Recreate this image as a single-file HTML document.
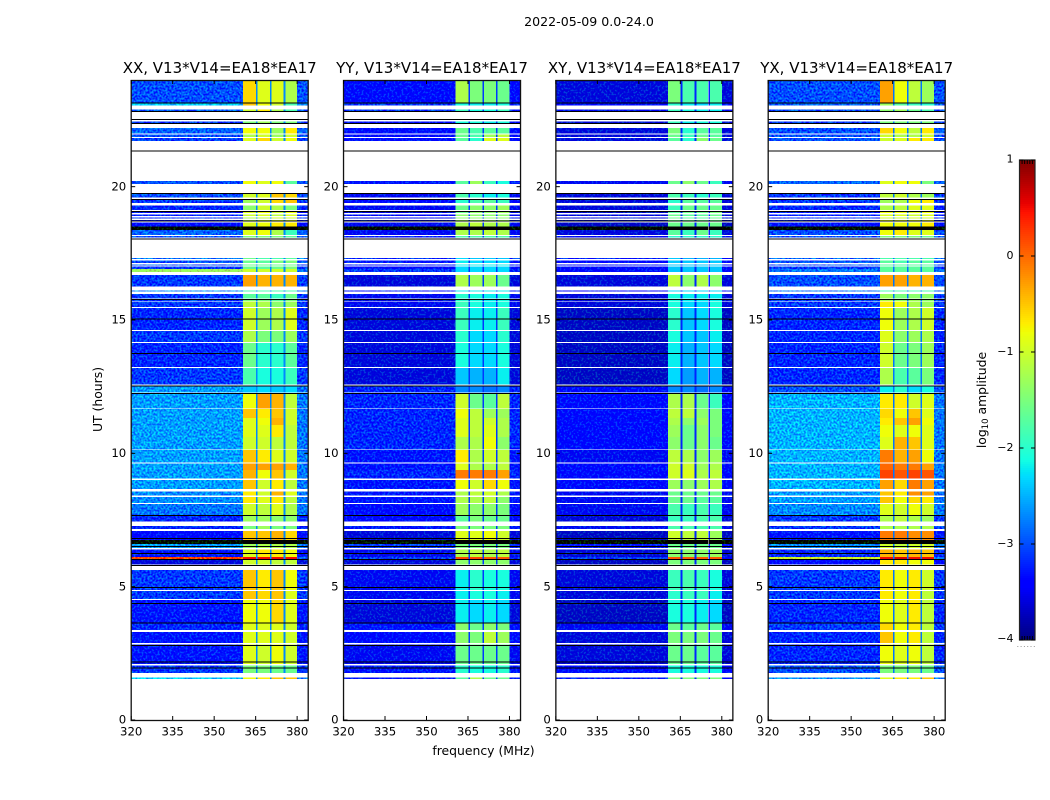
<!DOCTYPE html>
<html>
<head>
<meta charset="utf-8">
<title>2022-05-09 0.0-24.0</title>
<style>
html,body{margin:0;padding:0;background:#fff;width:1050px;height:800px;overflow:hidden}
svg{display:block}
text{font-family:"DejaVu Sans","Liberation Sans",sans-serif;fill:#000}
</style>
</head>
<body>
<svg id="figure" xmlns="http://www.w3.org/2000/svg" width="1050" height="800" viewBox="0 0 1050 800">
  <defs>
    <filter id="speckle" filterUnits="userSpaceOnUse" x="0" y="0" width="1050" height="800" color-interpolation-filters="sRGB">
      <feTurbulence type="fractalNoise" baseFrequency="0.5" numOctaves="1" seed="7" result="grain"/>
      <feColorMatrix in="grain" type="matrix" values="0 0 0 0 0.5  3 0 0 0 -1  0 0 0 0 0.5  0 0 0 0 1" result="greenGrain"/>
      <feComposite in="SourceGraphic" in2="greenGrain" operator="arithmetic" k1="0" k2="1" k3="0.5" k4="-0.25" result="mixed"/>
      <feComposite in="mixed" in2="SourceAlpha" operator="in"/>
    </filter>
  </defs>
  <text x="589" y="26" text-anchor="middle" font-size="12.6">2022-05-09 0.0-24.0</text>
  <text x="483.5" y="755" text-anchor="middle" font-size="12.4">frequency (MHz)</text>
  <text transform="translate(102,399.5) rotate(-90)" text-anchor="middle" font-size="12.4">UT (hours)</text>
  <text transform="translate(986,400) rotate(-90)" text-anchor="middle" font-size="12.4">log<tspan font-size="8.5" dy="2">10</tspan><tspan dy="-2"> amplitude</tspan></text>
  <g id="panels"></g>
  <g id="colorbar"></g>
</svg>
<script>
const panelTitles = ["XX, V13*V14=EA18*EA17","YY, V13*V14=EA18*EA17","XY, V13*V14=EA18*EA17","YX, V13*V14=EA18*EA17"];
const xTicks = [320,335,350,365,380];
const yTicks = [0,5,10,15,20];
const colorbarTicks = [1,0,-1,-2,-3,-4];
const colorbarTickLabels = ["1","0","\u22121","\u22122","\u22123","\u22124"];
const freqEdgesMHz = [320,360.5,365.1,365.7,370.2,370.8,375.1,375.7,380,384];
const gapChannelLevels = [-2.7,-3.1,-3.2,-2.8];
const rightEdgeLevels = [-2.8,-3.2,-3.4,-2.8];
const segmentTopUT = [24,23.16,22.9,22.44,22.2,21.95,21.83,20.21,19.74,19.51,19.29,19.09,18.96,18.84,18.75,18.66,18.51,18.38,18.15,17.33,17.24,17.09,17,16.91,16.69,16.11,15.98,15.79,15.69,15.45,14.59,14.14,13.2,12.53,12.26,11.66,11.33,11.06,10.61,10.13,9.62,9.38,9,8.56,8.37,8.1,7.67,7.28,7.08,6.75,6.6,6.39,6.11,6.04,5.63,4.84,4.5,3.64,3.3,2.83,2.04,1.59];
const segmentBottomUT = [23.16,23.04,22.84,22.38,21.99,21.86,21.72,20.1,19.6,19.38,19.13,19.01,18.9,18.8,18.69,18.51,18.38,18.19,18.09,17.28,17.13,17.04,16.91,16.8,16.25,16.09,15.8,15.71,15.48,14.63,14.18,13.24,12.59,12.28,11.69,11.33,11.06,10.61,10.15,9.66,9.38,9.05,8.66,8.42,8.14,7.69,7.44,7.16,6.75,6.6,6.45,6.11,6.04,5.83,4.88,4.54,3.66,3.38,2.89,2.1,1.77,1.54];
const blackRowsUT = [23.16,22.83,22.53,22.38,21.36,19.76,19.53,19.09,18.73,18.06,15.79,15.05,13.77,12.54,12.27,7.69,6.83,6.52,6.26,6.03,5.82,4.99,4.39,3.65,2.81,2.19,1.97];
// Row levels are log10 amplitude: [out-of-band, subband 1, subband 2, subband 3, subband 4]
const xxLevels = [
[-3,-.6,-.9,-.9,-1.2],[-2.4,-.5,-.8,-1,-1.8],[-2.9,-1,-.7,-1.2,-1.8],[-3.1,-1.5,-1.3,-1.5,-1.5],[-2.9,-.8,-.8,-1.3,-.7],[-3,-1.2,-1,-1.3,-1],[-3.1,-.9,-.6,-1,-.8],[-3,-.8,-.9,-.8,-1.7],[-3,-1,-.9,-.5,-.6],[-3.1,-1.3,-1,-.6,-.5],
[-3.2,-1.4,-1,-1.2,-1.5],[-3.5,-.9,-.8,-1,-.8],[-3.2,-1,-.9,-1.1,-.9],[-3.2,-1.2,-1.1,-1,-1],[-3.3,-1.2,-1,-1,-.9],[-3.4,-.9,-.8,-.7,-.7],[-4.2,-4.2,-4.2,-4.2,-4.2],[-2.9,-.9,-.8,-1.2,-1.9],[-3,-1.5,-1.5,-1.5,-1.7],[-2.8,-1.6,-1.8,-1.8,-1.7],
[-3,-1.6,-1.7,-1.5,-1.5],[-3,-1.6,-1.6,-1.6,-1.6],[-3.1,-1.6,-1.7,-1.6,-1.5],[-1.3,-1,-1,-1,-1],[-3.1,-.3,-.4,-.4,-.4],[-2.7,-1.8,-1.8,-1.8,-1.8],[-3.1,-1.7,-1.7,-1.9,-1.6],[-3.1,-1.5,-1.5,-1.7,-1.5],[-3.1,-1.1,-1.2,-1.4,-1.3],[-3.2,-1,-1.3,-1.2,-.9],
[-3.1,-1.2,-1.5,-1.5,-1.3],[-3.2,-1.6,-2,-2,-1.7],[-3.1,-1.8,-2.1,-2.1,-1.9],[-2.6,-2.4,-2.3,-2.4,-2.3],[-2.6,-.8,-.3,-.4,-1.1],[-2.6,-.5,-.7,-.5,-1],[-2.6,-.9,-.8,-.4,-1],[-2.6,-.9,-.9,-.7,-1.1],[-2.6,-1,-1,-1.1,-1.1],[-2.6,-.5,-.7,-.9,-1],
[-2.6,-.3,-.3,-.3,-.4],[-2.6,-.4,-.8,-.5,-1],[-2.6,-.5,-1,-.7,-1.1],[-2.7,-.7,-1,-.4,-.9],[-2.7,-.7,-.9,-.7,-1.1],[-2.8,-1,-1.1,-.9,-1.2],[-3.2,-1.3,-1.3,-1.4,-1.4],[-3.2,-1.5,-1.3,-1.5,-1.5],[-3.4,-.5,-.5,-.4,-.6],[-4.2,-4.2,-4.2,-4.2,-4.2],
[-2.6,-1.3,-1.2,-1.2,-1.2],[-3.3,-.9,-.7,-.7,-.8],[.2,.5,.5,.5,.5],[-3.6,-1,-1,-1.1,-1.1],[-3.1,-.5,-.7,-.5,-.8],[-3.1,-.5,-.6,-.5,-.9],[-3.3,-.8,-.8,-.6,-.9],[-3.2,-.9,-.9,-.9,-1],[-3.3,-.9,-.9,-.9,-1],[-3.3,-.9,-1,-.8,-1],
[-3.1,-1.5,-1.5,-1.6,-1.6],[-2.4,-.8,-.7,-.5,-.5]];
const yyLevels = [
[-3.4,-1.2,-1.5,-1.5,-1.6],[-3.1,-2.1,-2.2,-2.2,-2.1],[-3.1,-1.9,-2.1,-2.1,-1.9],[-3.4,-2.1,-2.1,-2.2,-2.1],[-3.4,-1.6,-1.8,-1.7,-1.7],[-3.4,-1.6,-1.8,-1.3,-1.1],[-3.4,-1.7,-2,-.9,-.9],[-3.3,-1.7,-1.3,-1.9,-2.1],[-3.5,-1.8,-2,-2.2,-2.1],[-3.4,-2,-1.8,-1.7,-1.9],
[-3.5,-1.6,-1.4,-1.4,-1.3],[-3.6,-1.6,-1.4,-1.4,-1.3],[-3.5,-1.4,-1.4,-1.4,-1.4],[-3.5,-1.4,-1.4,-1.4,-1.4],[-3.6,-1.3,-1.3,-1.3,-1.3],[-3.5,-1.2,-1.1,-1.2,-1.2],[-4.2,-4.2,-4.2,-4.2,-4.2],[-3.5,-1.2,-1.2,-1.1,-1.2],[-3.3,-1.8,-1.8,-1.8,-1.8],[-3.2,-2.3,-2.4,-2.4,-2.4],
[-3.3,-2.2,-2.3,-2.3,-2.3],[-3.3,-2.2,-2.2,-2.2,-2.2],[-3.4,-2.3,-2.3,-2.3,-2.3],[-3.1,-2.3,-2.3,-2.3,-2.3],[-3.6,-1.2,-1.3,-1.3,-1.6],[-3.3,-2.2,-2.2,-2.2,-2.2],[-3.5,-2,-2.1,-2.2,-2.1],[-3.6,-2,-2.1,-2.2,-2.1],[-3.5,-1.9,-2.1,-2.2,-2.1],[-3.6,-1.9,-2.2,-2.2,-1.9],
[-3.6,-2,-2.3,-2.3,-2],[-3.6,-2.1,-2.3,-2.3,-2.1],[-3.6,-2.4,-2.5,-2.5,-2.2],[-3.2,-2.7,-2.7,-2.8,-2.7],[-3.2,-1,-1.6,-1.7,-1.1],[-3.2,-.8,-1.1,-1.3,-1.3],[-3.2,-.9,-1.1,-1,-1.2],[-3.2,-.9,-1.1,-.9,-1.2],[-3.2,-1.2,-1.2,-.8,-1.4],[-3.3,-.7,-1.2,-1,-1.1],
[-3.3,-.9,-1.2,-1.2,-1.1],[-3.2,-.1,-.1,-.1,-.3],[-3.3,-.8,-1,-.6,-.8],[-3.3,-1.2,-1.1,-1,-1.2],[-3.3,-1.2,-1.2,-1.1,-1.4],[-3.4,-1.3,-1.4,-1.4,-1.5],[-3.4,-1.7,-1.5,-1.6,-1.6],[-3.3,-1.5,-1.5,-1.5,-1.5],[-3.6,-.9,-.9,-.8,-1],[-4.2,-4.2,-4.2,-4.2,-4.2],
[-3.1,-1.5,-1.5,-1.5,-1.5],[-3.5,-1.2,-1.1,-1.2,-1.1],[-3.1,.2,.2,.1,.1],[-3.6,-1.4,-1.4,-1.4,-1.4],[-3.5,-2.2,-2,-2.1,-2.1],[-3.5,-2.2,-2.1,-2.1,-2.2],[-3.6,-2.2,-2.3,-2.2,-2.3],[-3.3,-1.4,-1.6,-1.4,-1.5],[-3.4,-1.4,-1.5,-1.1,-1.3],[-3.5,-1.6,-1.6,-1.6,-1.6],
[-3.3,-2,-2.1,-2.1,-2],[-3.3,-1.7,-1.2,-1.6,-1.6]];
const xyLevels = [
[-3.6,-1.5,-1.8,-1.8,-1.8],[-3.4,-2,-2.2,-2.3,-2.2],[-3.5,-1.9,-2.1,-2.2,-2.2],[-3.6,-1.9,-2.2,-2.1,-2.1],[-3.6,-1.5,-2,-1.7,-1.7],[-3.6,-1.6,-1.9,-1.6,-1.7],[-3.6,-1.7,-2,-1.4,-1.6],[-3.5,-1.6,-1.4,-1.6,-1.9],[-3.6,-1.8,-1.9,-2,-1.9],[-3.6,-2,-1.7,-1.7,-1.7],
[-3.6,-1.9,-1.6,-1.6,-1.6],[-3.7,-1.7,-1.6,-1.6,-1.5],[-3.6,-1.6,-1.7,-1.7,-1.6],[-3.6,-1.6,-1.7,-1.7,-1.6],[-3.7,-1.6,-1.6,-1.6,-1.6],[-3.7,-1.6,-1.6,-1.6,-1.6],[-4.2,-4.2,-4.2,-4.2,-4.2],[-3.6,-1.7,-1.9,-1.6,-1.9],[-3.5,-2,-2,-2,-2],[-3.3,-2.4,-2.5,-2.5,-2.5],
[-3.4,-2.4,-2.4,-2.4,-2.4],[-3.4,-2.4,-2.4,-2.4,-2.4],[-3.4,-2.4,-2.4,-2.4,-2.4],[-3.4,-2.4,-2.4,-2.4,-2.4],[-3.6,-1.1,-1.4,-1.2,-1.4],[-3.4,-2.3,-2.3,-2.3,-2.3],[-3.6,-2.1,-2.2,-2.2,-2.2],[-3.6,-2.1,-2.2,-2.2,-2.2],[-3.6,-2.1,-2.3,-2.3,-2.1],[-3.7,-2,-2.4,-2.3,-2.1],
[-3.7,-2.1,-2.4,-2.4,-2.2],[-3.7,-2.2,-2.5,-2.4,-2.3],[-3.7,-2.3,-2.6,-2.5,-2.5],[-3.4,-2.7,-2.7,-2.8,-2.7],[-3.4,-1.2,-1.2,-1.6,-1.9],[-3.4,-1.1,-1.1,-1.4,-1.5],[-3.4,-1.2,-1.4,-1.3,-1.5],[-3.4,-1.3,-1.6,-1.4,-1.5],[-3.4,-1.4,-1.6,-1.4,-1.6],[-3.5,-1.1,-1.2,-1.4,-1.3],
[-3.4,-1,-1,-1.3,-1.2],[-3.4,-1,-.9,-1.2,-1.1],[-3.4,-1.3,-1.4,-1.3,-1.2],[-3.5,-1.6,-1.6,-1.6,-1.6],[-3.5,-1.6,-1.6,-1.7,-1.7],[-3.5,-1.8,-1.9,-1.8,-1.9],[-3.6,-1.9,-1.9,-1.8,-1.8],[-3.5,-1.8,-1.8,-1.8,-1.8],[-3.7,-1,-1.1,-1.1,-1.3],[-4.2,-4.2,-4.2,-4.2,-4.2],
[-3.3,-1.6,-1.6,-1.6,-1.6],[-3.6,-1.4,-1.4,-1.4,-1.3],[-3.1,.1,.1,.1,.1],[-3.7,-1.5,-1.5,-1.5,-1.5],[-3.6,-1.9,-1.8,-1.9,-2.1],[-3.6,-2,-1.9,-1.9,-2.2],[-3.7,-2.1,-2.1,-2.2,-2.3],[-3.5,-1.6,-1.7,-1.6,-1.7],[-3.6,-1.5,-1.5,-1.5,-1.6],[-3.6,-1.6,-1.6,-1.7,-1.7],
[-3.4,-2.1,-2.1,-2.1,-2.1],[-3.3,-1.5,-1.5,-1.5,-1.5]];
const yxLevels = [
[-3,-.3,-.8,-1.1,-1.3],[-2.9,-1.3,-1.7,-1.9,-2],[-3,-1.4,-1.3,-1.6,-1.8],[-3.1,-1.5,-1.5,-1.5,-1.5],[-3,-.6,-.8,-1.1,-.7],[-3,-1,-1.2,-1.2,-1],[-3,-1,-.9,-.7,-.7],[-2.9,-.9,-.8,-.8,-1.5],[-3.1,-1.1,-1,-1.2,-1.3],[-3.1,-1.3,-1.2,-.8,-.7],
[-3.2,-1.2,-1.1,-.9,-.9],[-3.3,-.8,-.8,-.9,-.8],[-3.2,-.9,-.9,-1,-.9],[-3.2,-1,-1,-1,-1],[-3.3,-.9,-.9,-.9,-.9],[-3.3,-.8,-.8,-.8,-.7],[-4.2,-4.2,-4.2,-4.2,-4.2],[-3,-.8,-.7,-.9,-.9],[-3,-1.5,-1.5,-1.5,-1.6],[-2.9,-1.8,-1.8,-1.8,-1.8],
[-3,-1.7,-1.8,-1.7,-1.7],[-3,-1.7,-1.7,-1.7,-1.7],[-3.1,-1.7,-1.7,-1.7,-1.7],[-2.8,-1.7,-1.7,-1.7,-1.7],[-3,-.3,-.3,-.4,-.4],[-2.8,-1.8,-1.8,-1.8,-1.8],[-3.1,-1.3,-1.5,-1.4,-1.4],[-3.1,-1.2,-1.4,-1.3,-1.4],[-3.1,-.7,-.8,-1.2,-1.3],[-3.2,-.8,-1.3,-1.2,-1],
[-3.2,-.9,-1.4,-1.3,-1.2],[-3.2,-1,-1.6,-1.5,-1.3],[-3.2,-1.2,-1.8,-1.7,-1.5],[-3,-2.2,-2,-2.3,-2.1],[-2.5,-.7,-.7,-1,-.9],[-2.5,-.6,-.8,-.5,-.9],[-2.5,-.7,-.5,-.3,-.8],[-2.5,-.8,-.9,-.8,-.9],[-2.5,-.9,-.4,-.5,-.9],[-2.5,-.1,-.4,-.3,-.8],
[-2.5,0,-.1,-.1,-.3],[-2.5,.2,.1,.2,.1],[-2.5,-.3,-.6,-.1,-.3],[-2.6,-.5,-.7,-.2,-.3],[-2.6,-.5,-.8,-.6,-.7],[-2.7,-.9,-1,-.8,-1],[-3.1,-1.2,-1.1,-1.2,-1.3],[-3.1,-1.2,-1.2,-1.2,-1.2],[-3.3,-.1,-.1,-.2,-.2],[-4.2,-4.2,-4.2,-4.2,-4.2],
[-2.7,-1,-1.1,-1,-1],[-3.2,-.4,-.5,-.4,-.5],[-1,.5,.6,.5,.5],[-3.4,-.7,-.7,-.8,-.8],[-3.1,-.7,-.8,-.7,-1],[-3.1,-.7,-.8,-.7,-1.1],[-3.2,-.8,-.9,-.7,-1.1],[-3.1,-.6,-.8,-.7,-1.1],[-3.2,-.5,-.8,-.7,-1.1],[-3.2,-.8,-.9,-.8,-1.1],
[-3,-1.5,-1.5,-1.5,-1.6],[-2.7,-.9,-.7,-.7,-.5]];
const panelLevels = [xxLevels, yyLevels, xyLevels, yxLevels];

const SVGNS = 'http://www.w3.org/2000/svg';
const PANEL_LEFT = 131.2, PANEL_STEP = 212.33, PANEL_W = 177, PANEL_TOP = 80, PANEL_H = 640;
const FREQ_MIN = 320, FREQ_MAX = 384, UT_MIN = 0, UT_MAX = 24;
const CB_LEFT = 1019.5, CB_W = 15.5, CB_TOP = 160, CB_H = 480, CB_MIN = -4, CB_MAX = 1;

function xScale(panel, mhz) { return PANEL_LEFT + panel * PANEL_STEP + (mhz - FREQ_MIN) / (FREQ_MAX - FREQ_MIN) * PANEL_W; }
function yScale(ut) { return PANEL_TOP + (UT_MAX - ut) / (UT_MAX - UT_MIN) * PANEL_H; }
function cbScale(v) { return CB_TOP + (CB_MAX - v) / (CB_MAX - CB_MIN) * CB_H; }
function piece(anchors, t) {
  for (let i = 1; i < anchors.length; i++) {
    if (t <= anchors[i][0]) {
      const a = anchors[i - 1], b = anchors[i];
      return a[1] + (b[1] - a[1]) * (t - a[0]) / (b[0] - a[0]);
    }
  }
  return anchors[anchors.length - 1][1];
}
const jetR = [[0,0],[.35,0],[.66,1],[.89,1],[1,.5]];
const jetG = [[0,0],[.125,0],[.375,1],[.64,1],[.91,0],[1,0]];
const jetB = [[0,.5],[.11,1],[.34,1],[.65,0],[1,0]];
function colorFor(v) {
  if (v < CB_MIN) return '#000';
  const t = Math.min(1, (v - CB_MIN) / (CB_MAX - CB_MIN));
  return 'rgb(' + Math.round(255 * piece(jetR, t)) + ',' + Math.round(255 * piece(jetG, t)) + ',' + Math.round(255 * piece(jetB, t)) + ')';
}
function levelForColumn(row, col, panel) {
  if (col === 0) return row[0];
  if (row[0] < CB_MIN) return row[0];
  if (col === 8) return Math.min(row[0], rightEdgeLevels[panel]);
  if (col % 2 === 0) return gapChannelLevels[panel];
  return row[(col + 1) / 2];
}
function line(parent, x1, y1, x2, y2, w) {
  const el = document.createElementNS(SVGNS, 'line');
  el.setAttribute('x1', x1); el.setAttribute('y1', y1); el.setAttribute('x2', x2); el.setAttribute('y2', y2);
  el.setAttribute('stroke', '#000'); el.setAttribute('stroke-width', w || 1);
  parent.appendChild(el);
  return el;
}
function label(parent, x, y, anchor, size, str) {
  const el = document.createElementNS(SVGNS, 'text');
  el.setAttribute('x', x); el.setAttribute('y', y); el.setAttribute('text-anchor', anchor); el.setAttribute('font-size', size);
  el.textContent = str;
  parent.appendChild(el);
  return el;
}

const panelsGroup = document.getElementById('panels');
panelTitles.forEach(function (title, p) {
  const g = document.createElementNS(SVGNS, 'g');
  
  
  panelsGroup.appendChild(g);

  const heatOuter = document.createElementNS(SVGNS, 'g');
  heatOuter.setAttribute('shape-rendering', 'crispEdges');
  heatOuter.setAttribute('filter', 'url(#speckle)');
  
  
  g.appendChild(heatOuter);

  const heat = document.createElementNS(SVGNS, 'g');
  heat.setAttribute('shape-rendering', 'crispEdges');
  
  
  g.appendChild(heat);

  panelLevels[p].forEach(function (row, r) {
    const yTop = yScale(segmentTopUT[r]);
    const yBot = yScale(segmentBottomUT[r]);
    for (let c = 0; c < freqEdgesMHz.length - 1; c++) {
      const cell = document.createElementNS(SVGNS, 'rect');
      const x0 = xScale(p, freqEdgesMHz[c]);
      const x1 = xScale(p, freqEdgesMHz[c + 1]);
      cell.setAttribute('x', x0.toFixed(2));
      cell.setAttribute('y', yTop.toFixed(2));
      cell.setAttribute('width', (x1 - x0).toFixed(2));
      cell.setAttribute('height', Math.max(yBot - yTop, 1).toFixed(2));
      cell.setAttribute('fill', colorFor(levelForColumn(row, c, p)));
      
      
      ((c === 0 || c === 8) ? heatOuter : heat).appendChild(cell);
    }
  });

  blackRowsUT.forEach(function (ut) {
    const rowLine = document.createElementNS(SVGNS, 'rect');
    rowLine.setAttribute('x', xScale(p, FREQ_MIN));
    rowLine.setAttribute('y', yScale(ut).toFixed(2));
    rowLine.setAttribute('width', PANEL_W);
    rowLine.setAttribute('height', 1);
    rowLine.setAttribute('fill', '#000');
    
    
    heat.appendChild(rowLine);
  });

  const frame = document.createElementNS(SVGNS, 'rect');
  frame.setAttribute('x', xScale(p, FREQ_MIN));
  frame.setAttribute('y', PANEL_TOP + 0.5);
  frame.setAttribute('width', PANEL_W);
  frame.setAttribute('height', PANEL_H);
  frame.setAttribute('fill', 'none');
  frame.setAttribute('stroke', '#111');
  frame.setAttribute('stroke-width', 1.3);
  
  
  g.appendChild(frame);

  const titleEl = label(g, xScale(p, FREQ_MIN) + PANEL_W / 2, 73, 'middle', 15, title);
  
  

  xTicks.forEach(function (f) {
    const x = xScale(p, f);
    const t1 = line(g, x, PANEL_TOP + PANEL_H, x, PANEL_TOP + PANEL_H - 4);
    
    
    const t2 = line(g, x, PANEL_TOP, x, PANEL_TOP + 4);
    
    
    const tl = label(g, x, 735.5, 'middle', 11.7, String(f));
    
    
  });
  yTicks.forEach(function (u) {
    const y = yScale(u);
    const left = xScale(p, FREQ_MIN);
    const right = xScale(p, FREQ_MAX);
    const t1 = line(g, left, y, left + 4, y);
    
    
    const t2 = line(g, right, y, right - 4, y);
    
    
    const tl = label(g, left - 5, y + 3.7, 'end', 11.7, String(u));
    
    
  });
});

const cb = document.getElementById('colorbar');
const cbRamp = document.createElementNS(SVGNS, 'g');
cbRamp.setAttribute('shape-rendering', 'crispEdges');


cb.appendChild(cbRamp);
for (let py = 0; py < CB_H; py += 2) {
  const strip = document.createElementNS(SVGNS, 'rect');
  strip.setAttribute('x', CB_LEFT);
  strip.setAttribute('y', CB_TOP + py);
  strip.setAttribute('width', CB_W);
  strip.setAttribute('height', 2);
  strip.setAttribute('fill', colorFor(CB_MAX - (py + 1) / CB_H * (CB_MAX - CB_MIN)));
  
  
  cbRamp.appendChild(strip);
}
const cbFrame = document.createElementNS(SVGNS, 'rect');
cbFrame.setAttribute('x', CB_LEFT);
cbFrame.setAttribute('y', CB_TOP);
cbFrame.setAttribute('width', CB_W);
cbFrame.setAttribute('height', CB_H);
cbFrame.setAttribute('fill', 'none');
cbFrame.setAttribute('stroke', '#222');
cbFrame.setAttribute('stroke-width', 1.2);


cb.appendChild(cbFrame);
colorbarTicks.forEach(function (v, i) {
  const y = cbScale(v);
  const a = line(cb, CB_LEFT, y, CB_LEFT + 4, y);
  
  
  const b = line(cb, CB_LEFT + CB_W, y, CB_LEFT + CB_W - 4, y);
  
  
  const tl = label(cb, 1013.5, y + (i === 0 ? 2.5 : (i === 5 ? 2 : 3)), 'end', 11, colorbarTickLabels[i]);
  
  
});
for (let k = 1; k <= 5; k++) {
  const x = CB_LEFT + k * CB_W / 6;
  const top = line(cb, x, CB_TOP, x, CB_TOP + 4);
  
  
  const bot = line(cb, x, CB_TOP + CB_H, x, CB_TOP + CB_H - 4);
  
  
}
for (let k = 0; k < 6; k++) {
  const dot = document.createElementNS(SVGNS, 'rect');
  dot.setAttribute('x', 1017.3 + k * 3.3);
  dot.setAttribute('y', 646);
  dot.setAttribute('width', 1);
  dot.setAttribute('height', 1);
  dot.setAttribute('fill', '#999');
  
  
  cb.appendChild(dot);
}
</script>
</body>
</html>
